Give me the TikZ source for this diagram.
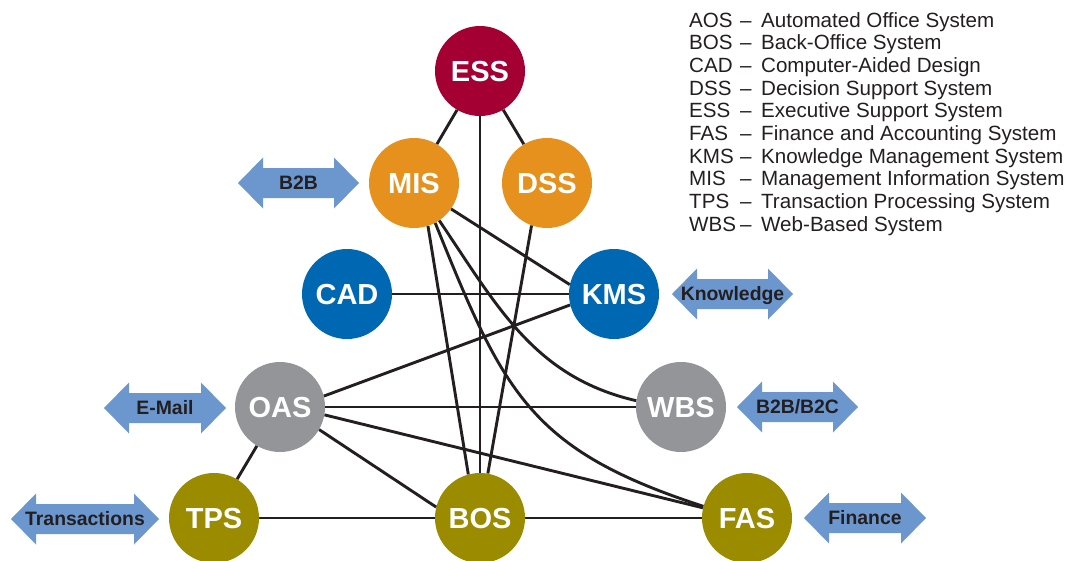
\documentclass[tikz,border=0pt]{standalone}
\usepackage{fontspec}
\setmainfont{Liberation Sans}

\definecolor{essc}{HTML}{A50034}
\definecolor{orangec}{HTML}{E6901E}
\definecolor{bluec}{HTML}{0068B3}
\definecolor{grayc}{HTML}{939598}
\definecolor{olivec}{HTML}{9A8B00}
\definecolor{arrowc}{HTML}{6C97CE}
\definecolor{inkc}{HTML}{231F20}

\tikzset{
  sys/.style={circle, minimum size=90pt, inner sep=0pt, text=white,
    font=\fontsize{29}{29}\selectfont\bfseries, text height=20.5pt, text depth=0pt},
  link/.style={draw=inkc, line width=2.9pt},
  tag/.style={text=inkc, inner sep=0pt, text height=13.9pt, text depth=0pt,
    font=\fontsize{19.4}{20}\selectfont\bfseries},
}

% two-headed block arrow with a label: name, x, y, half length, text
\newcommand\twoway[5]{%
  \fill[arrowc] ({#2-#4},#3) -- ++(25,-25.5) -- ++(0,10.5) -- ++({2*#4-50},0)
    -- ++(0,-10.5) -- ++(25,25.5) -- ++(-25,25.5) -- ++(0,-10.5)
    -- ++({50-2*#4},0) -- ++(0,10.5) -- cycle;
  \node[tag] (#1) at (#2,#3) {#5};
}

\begin{document}
\begin{tikzpicture}[x=1pt, y=-1pt]
\useasboundingbox (0,0) rectangle (1073,560);

% systems
\node[sys, fill=essc]    (ESS) at (480,71)  {ESS};
\node[sys, fill=orangec] (MIS) at (414,183) {MIS};
\node[sys, fill=orangec] (DSS) at (547,183) {DSS};
\node[sys, fill=bluec]   (CAD) at (347,294) {CAD};
\node[sys, fill=bluec]   (KMS) at (614,294) {KMS};
\node[sys, fill=grayc]   (OAS) at (280,407) {OAS};
\node[sys, fill=grayc]   (WBS) at (681,407) {WBS};
\node[sys, fill=olivec]  (TPS) at (214,518) {TPS};
\node[sys, fill=olivec]  (BOS) at (480,518) {BOS};
\node[sys, fill=olivec]  (FAS) at (747,518) {FAS};

% connections
\draw[link] (ESS) -- (MIS);
\draw[link] (ESS) -- (DSS);
\draw[link] (ESS) -- (BOS);
\draw[link] (MIS.-35) -- (KMS.168);
\draw[link] (MIS.-72) -- (BOS.105);
\draw[link] (MIS.-56) to[out=-56, in=167] (WBS.172);
\draw[link] (MIS.-62) to[out=-68, in=162, looseness=1.2] (FAS.165);
\draw[link] (DSS.-110) -- (BOS.80);
\draw[link] (CAD) -- (KMS);
\draw[link] (OAS.14) -- (KMS.194);
\draw[link] (OAS) -- (WBS);
\draw[link] (OAS.-10) -- (FAS.167);
\draw[link] (OAS.-30) -- (BOS.166);
\draw[link] (OAS) -- (TPS);
\draw[link] (TPS) -- (BOS);
\draw[link] (BOS) -- (FAS);

% external flows
\twoway{b2b}{298.5}{183}{60.5}{B2B}
\twoway{know}{732.5}{294}{60.5}{Knowledge}
\twoway{web}{797.5}{407}{60.5}{B2B/B2C}
\twoway{mail}{165}{408}{61}{E-Mail}
\twoway{trans}{85}{519}{74}{Transactions}
\twoway{fin}{865}{518}{61}{Finance}

% abbreviations
\node[anchor=base west, inner sep=0pt, text=inkc,
      font=\fontsize{20.6}{22.7}\selectfont] (legend) at (689,27) {%
  \begin{tabular}[t]{@{}p{51pt}@{}l@{}}
  AOS & –\hspace{9.5pt}Automated Office System\\
  BOS & –\hspace{9.5pt}Back-Office System\\
  CAD & –\hspace{9.5pt}Computer-Aided Design\\
  DSS & –\hspace{9.5pt}Decision Support System\\
  ESS & –\hspace{9.5pt}Executive Support System\\
  FAS & –\hspace{9.5pt}Finance and Accounting System\\
  KMS & –\hspace{9.5pt}Knowledge Management System\\
  MIS & –\hspace{9.5pt}Management Information System\\
  TPS & –\hspace{9.5pt}Transaction Processing System\\
  WBS & –\hspace{9.5pt}Web-Based System
  \end{tabular}};
\end{tikzpicture}
\end{document}
